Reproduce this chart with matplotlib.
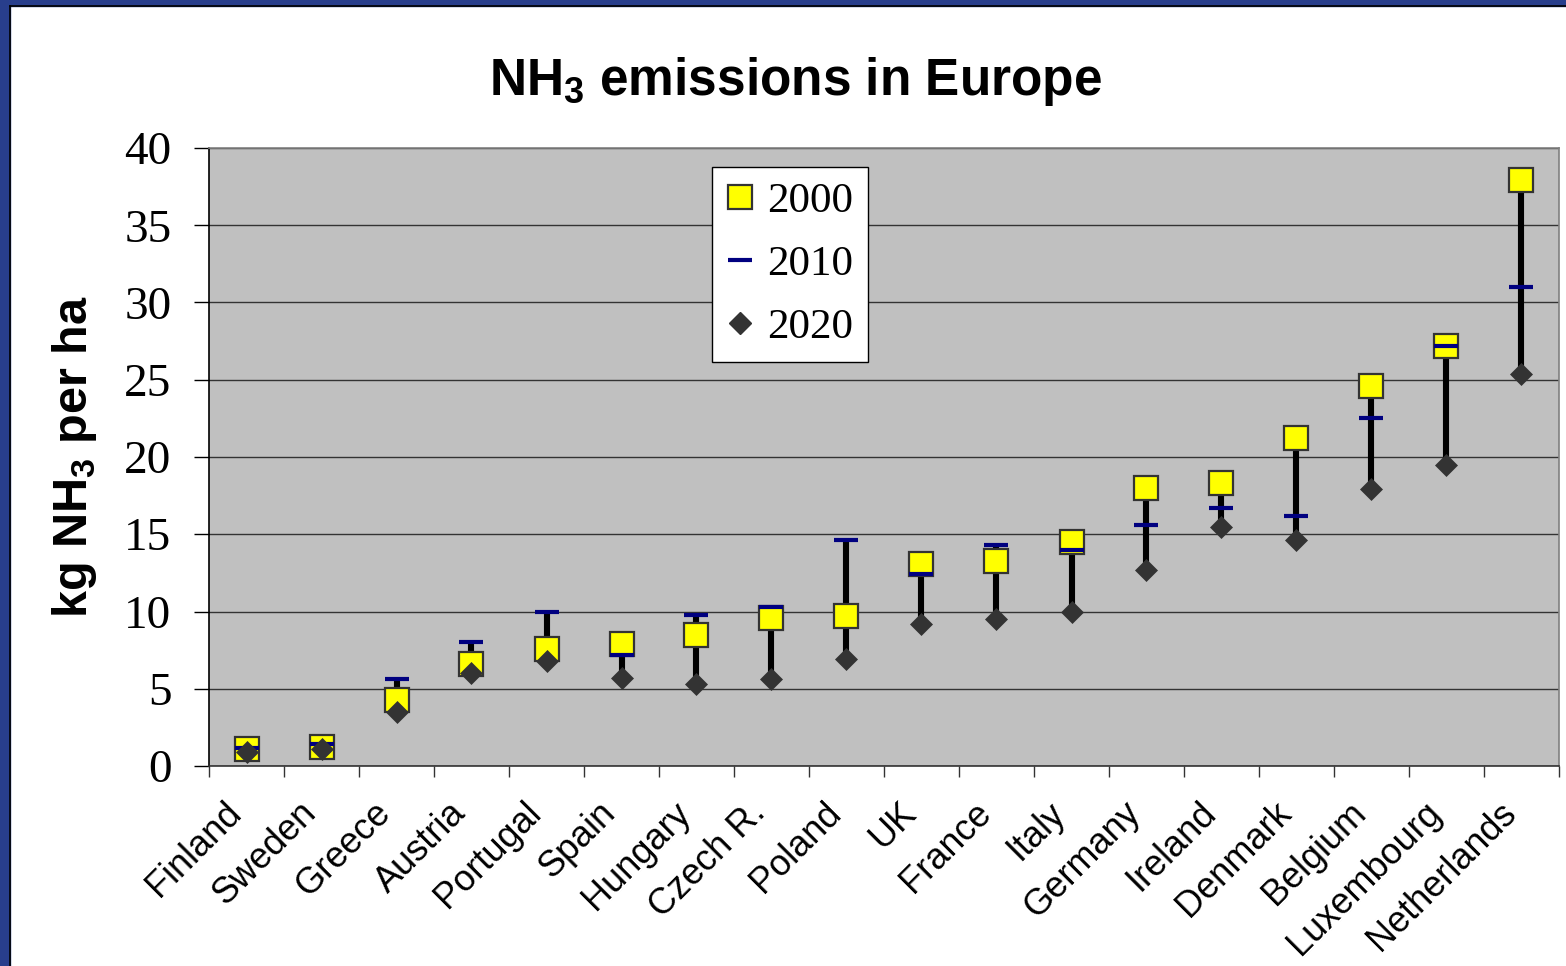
import matplotlib.pyplot as plt
import numpy as np
from matplotlib.lines import Line2D
from matplotlib.patches import Rectangle
from matplotlib.transforms import ScaledTranslation

plt.rcParams["mathtext.fontset"] = "custom"
plt.rcParams["mathtext.rm"] = "Liberation Sans"
plt.rcParams["mathtext.bf"] = "Liberation Sans:bold"

countries = ["Finland", "Sweden", "Greece", "Austria", "Portugal", "Spain", "Hungary",
             "Czech R.", "Poland", "UK", "France", "Italy", "Germany", "Ireland",
             "Denmark", "Belgium", "Luxembourg", "Netherlands"]
y2000 = [1.1, 1.2, 4.3, 6.6, 7.6, 7.9, 8.5, 9.6, 9.7, 13.1, 13.3, 14.5, 18.0, 18.3, 21.2, 24.6, 27.2, 37.9]
y2010 = [1.15, 1.4, 5.6, 8.0, 10.0, 7.2, 9.8, 10.3, 14.6, 12.4, 14.3, 14.0, 15.6, 16.7, 16.2, 22.5, 27.2, 31.0]
y2020 = [0.9, 1.1, 3.5, 6.0, 6.8, 5.7, 5.3, 5.6, 6.9, 9.2, 9.5, 10.0, 12.7, 15.5, 14.6, 17.9, 19.5, 25.4]
yticks = [0, 5, 10, 15, 20, 25, 30, 35, 40]

fig = plt.figure(figsize=(15.66, 9.66), dpi=100)
ax = fig.add_axes([209 / 1566, 1 - 766 / 966, 1350 / 1566, 618 / 966])
ax.set_facecolor("#c0c0c0")

x = np.arange(len(countries))
vals = np.array([y2000, y2010, y2020])
ax.vlines(x, vals.min(axis=0), vals.max(axis=0), color="black", lw=4.4, zorder=2)
ax.plot(x, y2000, ls="none", marker="s", ms=17, mfc="#ffff00", mec="#333333", mew=1.6, zorder=3)
ax.plot(x, y2010, ls="none", marker="_", ms=17, mec="#000080", mew=3, zorder=4)
ax.plot(x, y2020, ls="none", marker="D", ms=11.5, mfc="#333333", mec="#333333", mew=0.5, zorder=5)

ax.set_xlim(-0.5, len(countries) - 0.5)
ax.set_ylim(0, 40)
ax.set_yticks(yticks)
ax.set_yticklabels([str(t) for t in yticks], family="Liberation Serif", fontsize=34)
ax.tick_params(axis="y", length=11, width=1, color="black", pad=16, direction="out")
ax.grid(axis="y", color="#333333", lw=1)
ax.set_axisbelow(True)

ax.set_xticks(x)
ax.set_xticklabels(countries, family="Liberation Sans", fontsize=26)
ax.set_xticks(np.arange(len(countries) + 1) - 0.5, minor=True)
ax.tick_params(axis="x", which="major", length=0, pad=30)
ax.tick_params(axis="x", which="minor", length=8, width=1, color="#333333", direction="out")
for lab in ax.get_xticklabels():
    lab.set_rotation(45)
    lab.set_ha("right")
    lab.set_va("center")
    lab.set_rotation_mode("anchor")
    lab.set_transform(lab.get_transform() + ScaledTranslation(-0.11, 0, fig.dpi_scale_trans))

ax.spines["left"].set_color("black")
ax.spines["bottom"].set_color("#333333")
ax.spines["top"].set_color("#808080")
ax.spines["right"].set_color("#808080")
for s in ax.spines.values():
    s.set_linewidth(1.2)

ax.set_ylabel(r"kg NH$_\mathbf{3}$ per ha", family="Liberation Sans", fontweight="bold", fontsize=35, labelpad=18)

fig.text(796 / 1566, 1 - 95 / 966, r"NH$_\mathbf{3}$ emissions in Europe", family="Liberation Sans",
         fontweight="bold", fontsize=37, ha="center", va="baseline")

handles = [
    Line2D([], [], ls="none", marker="s", ms=17, mfc="#ffff00", mec="#333333", mew=1.6),
    Line2D([], [], ls="none", marker="_", ms=17, mec="#000080", mew=3),
    Line2D([], [], ls="none", marker="D", ms=11.5, mfc="#333333", mec="#333333"),
]
leg = ax.legend(handles, ["2000", "2010", "2020"], loc="upper left",
                bbox_to_anchor=((712 - 209) / 1350, (766 - 167) / 618),
                prop={"family": "Liberation Serif", "size": 31}, frameon=True, fancybox=False,
                edgecolor="black", framealpha=1, handlelength=0.6, handletextpad=0.32,
                labelspacing=0.55, borderpad=0.35, borderaxespad=0)
leg.get_frame().set_linewidth(1)

# slide border
fig.add_artist(Rectangle((0, 0), 10 / 1566, 1, transform=fig.transFigure, color="#283e8c", zorder=10))
fig.add_artist(Rectangle((0, 1 - 6 / 966), 1, 6 / 966, transform=fig.transFigure, color="#283e8c", zorder=10))
fig.add_artist(Line2D([10 / 1566, 10 / 1566], [0, 1 - 6 / 966], transform=fig.transFigure, color="black", lw=1.2, zorder=11))
fig.add_artist(Line2D([10 / 1566, 1], [1 - 6 / 966, 1 - 6 / 966], transform=fig.transFigure, color="black", lw=1.2, zorder=11))

fig.savefig("out.png", dpi=100)
